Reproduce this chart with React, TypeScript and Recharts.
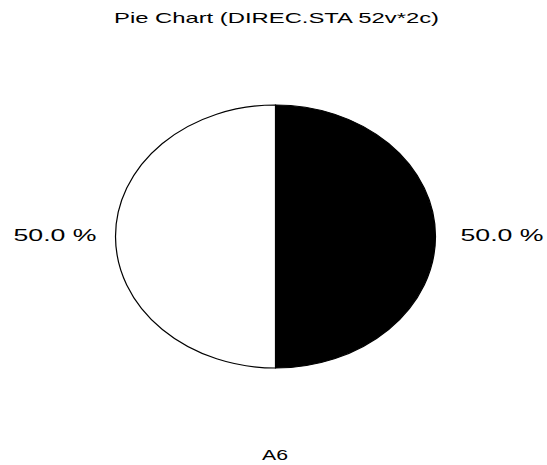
import { Pie, PieChart, Cell } from "recharts";

const categories = ["A6 = 1", "A6 = 2"];
const counts = [26, 26];
const sliceColors = ["#000000", "#ffffff"];
const chartTitle = "Pie Chart (DIREC.STA 52v*2c)";
const variableName = "A6";

const data = categories.map((name, i) => ({ name, value: counts[i] }));
const total = counts.reduce((a, b) => a + b, 0);

const W = 547;
const H = 465;
const CX = 275.5;
const CY = 236.5;
const RX = 160;
const RY = 131.5;

// the old chart draws the pie as an ellipse, so squash the sectors only
const css = `
.squash .recharts-pie-sector {
  transform-box: view-box;
  transform-origin: ${CX}px ${CY}px;
  transform: scaleY(${RY / RX});
}
.squash .recharts-pie-sector path { vector-effect: non-scaling-stroke; }
`;

const font = "'Liberation Sans', Arial, sans-serif";

function renderLabel(props: any) {
  const { cx, cy, midAngle, outerRadius, value } = props;
  const right = Math.cos((-midAngle * Math.PI) / 180) > 0;
  const x = right ? cx + outerRadius + 25 : cx - outerRadius - 19;
  const txt = `${((value / total) * 100).toFixed(1)} %`;
  return (
    <text
      x={x}
      y={cy + 4.5}
      textAnchor={right ? "start" : "end"}
      fontFamily={font}
      fontSize={17}
      fill="#000"
      textLength={83}
      lengthAdjust="spacingAndGlyphs"
    >
      {txt}
    </text>
  );
}

export default function App() {
  return (
    <div style={{ position: "absolute", left: 0, top: 0, background: "#fff" }}>
      <style>{css}</style>
      <PieChart width={W} height={H} margin={{ top: 0, right: 0, bottom: 0, left: 0 }}>
        <text
          x={276.5}
          y={23}
          textAnchor="middle"
          fontFamily={font}
          fontSize={15}
          fill="#000"
          textLength={325}
          lengthAdjust="spacingAndGlyphs"
        >
          {chartTitle}
        </text>
        <Pie
          className="squash"
          data={data}
          dataKey="value"
          nameKey="name"
          cx={CX}
          cy={CY}
          outerRadius={RX}
          startAngle={90}
          endAngle={-270}
          stroke="#000"
          strokeWidth={1.2}
          labelLine={false}
          label={renderLabel}
          isAnimationActive={false}
        >
          {data.map((d, i) => (
            <Cell key={d.name} fill={sliceColors[i]} />
          ))}
        </Pie>
        <text
          x={275}
          y={460}
          textAnchor="middle"
          fontFamily={font}
          fontSize={15}
          fill="#000"
          textLength={26}
          lengthAdjust="spacingAndGlyphs"
        >
          {variableName}
        </text>
      </PieChart>
    </div>
  );
}
